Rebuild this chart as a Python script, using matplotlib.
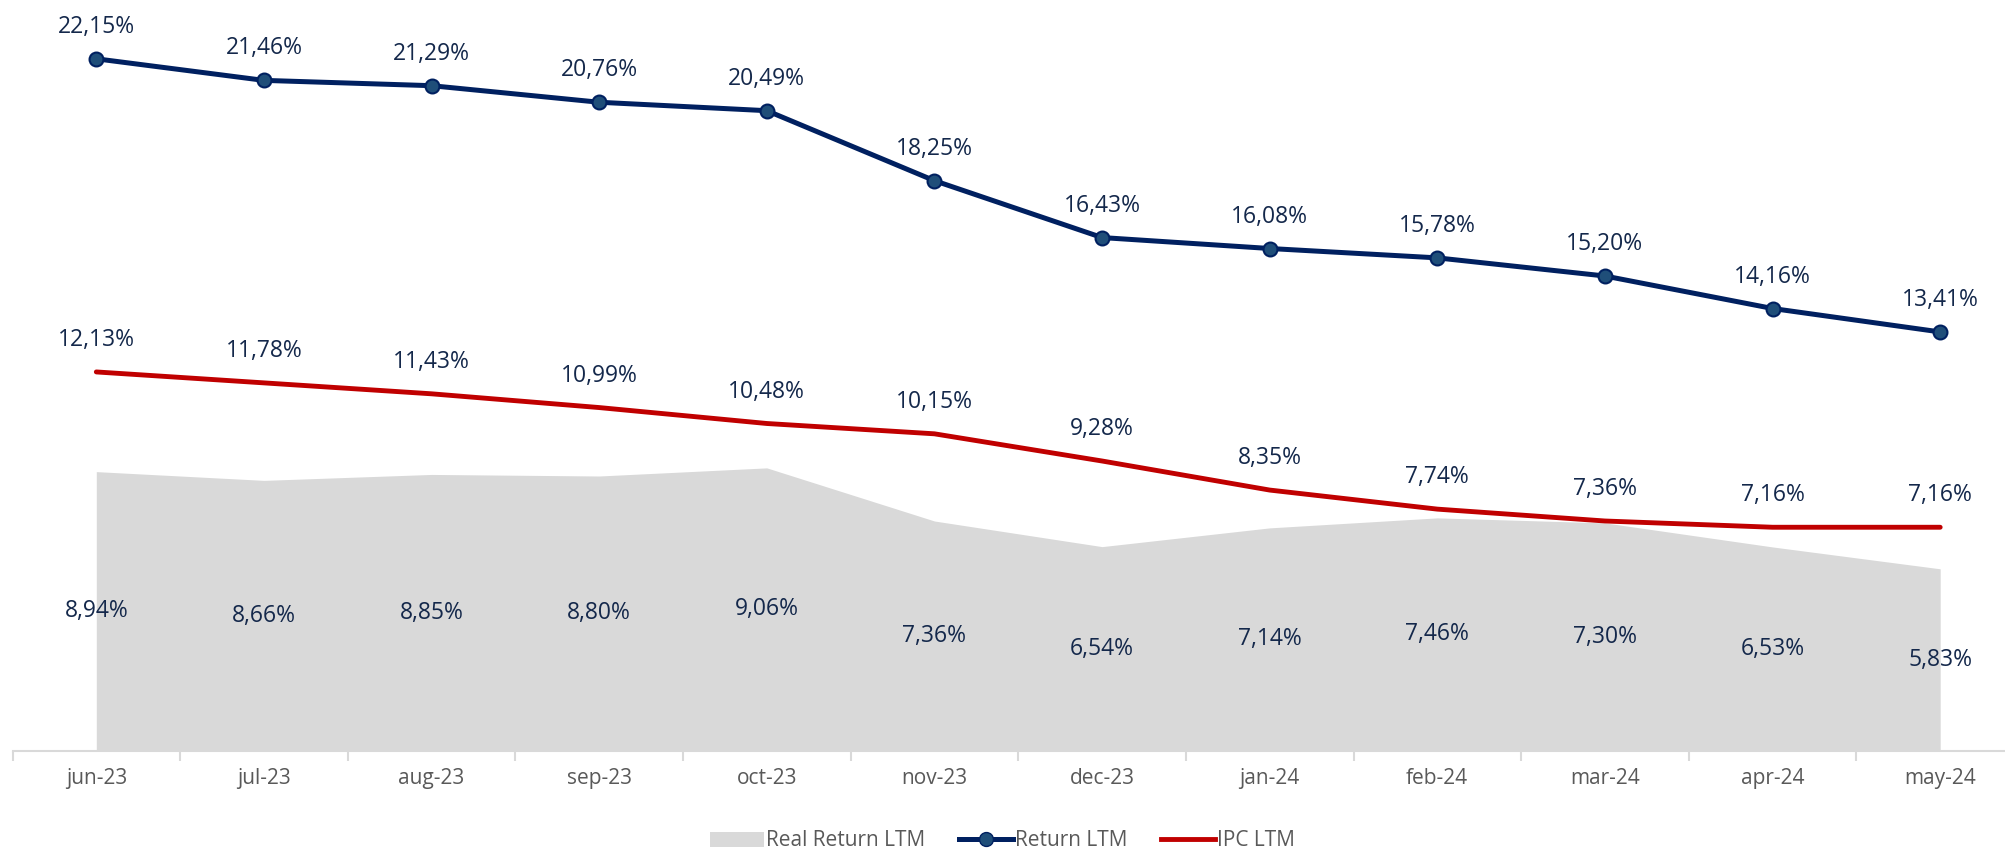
import numpy as np
import matplotlib.pyplot as plt
from matplotlib.patches import Patch
from matplotlib.lines import Line2D

months = ['jun-23', 'jul-23', 'aug-23', 'sep-23', 'oct-23', 'nov-23',
          'dec-23', 'jan-24', 'feb-24', 'mar-24', 'apr-24', 'may-24']
return_ltm = [22.15, 21.46, 21.29, 20.76, 20.49, 18.25, 16.43, 16.08, 15.78, 15.20, 14.16, 13.41]
ipc_ltm = [12.13, 11.78, 11.43, 10.99, 10.48, 10.15, 9.28, 8.35, 7.74, 7.36, 7.16, 7.16]
real_ltm = [8.94, 8.66, 8.85, 8.80, 9.06, 7.36, 6.54, 7.14, 7.46, 7.30, 6.53, 5.83]

navy = '#002060'
red = '#c00000'
gray = '#d9d9d9'
txt = '#14284b'

plt.rcParams['font.family'] = ['Open Sans', 'DejaVu Sans']

fig = plt.figure(figsize=(20.05, 8.51), dpi=100)
ax = fig.add_axes([12.5 / 2005, 100 / 851, 2011.5 / 2005, 750 / 851])

x = np.arange(len(months))

ax.fill_between(x, 0, real_ltm, color=gray, lw=0, zorder=1)
ax.plot(x, ipc_ltm, color=red, lw=3.5, solid_capstyle='round', zorder=2)
ax.plot(x, return_ltm, color=navy, lw=3.6, marker='o', markersize=10,
        markerfacecolor='#1f4e79', markeredgecolor=navy, markeredgewidth=1.5, zorder=3)

# data labels
for i in x:
    ax.annotate(f"{return_ltm[i]:.2f}%".replace('.', ','), (i, return_ltm[i]),
                xytext=(0, 23), textcoords='offset points', ha='center', va='center',
                fontsize=16.5, color=txt)
    ax.annotate(f"{ipc_ltm[i]:.2f}%".replace('.', ','), (i, ipc_ltm[i]),
                xytext=(0, 23), textcoords='offset points', ha='center', va='center',
                fontsize=16.5, color=txt)
    ax.text(i, real_ltm[i] / 2, f"{real_ltm[i]:.2f}%".replace('.', ','),
            ha='center', va='center', fontsize=16.5, color=txt)

ax.set_xlim(-0.5, 11.5)
ax.set_ylim(0, 24)
ax.set_yticks([])
for s in ['top', 'right', 'left']:
    ax.spines[s].set_visible(False)
ax.spines['bottom'].set_color(gray)
ax.spines['bottom'].set_linewidth(1.5)

ax.set_xticks(x)
ax.set_xticklabels(months, fontsize=15, color='#595959')
ax.tick_params(axis='x', length=0, pad=12)
ax.set_xticks(np.arange(-0.5, 12, 1), minor=True)
ax.tick_params(axis='x', which='minor', length=7, width=1.5, color=gray)

handles = [Patch(facecolor=gray, edgecolor='none'),
           Line2D([], [], color=navy, lw=3.6, marker='o', markersize=10,
                  markerfacecolor='#1f4e79', markeredgecolor=navy),
           Line2D([], [], color=red, lw=3.5)]
fig.legend(handles, ['Real Return LTM', 'Return LTM', 'IPC LTM'],
           loc='center', bbox_to_anchor=(0.5, 10 / 851), ncol=3, frameon=False,
           fontsize=15, labelcolor='#595959', handlelength=2.6,
           handletextpad=0.1, columnspacing=1.6)

plt.savefig('out.png', dpi=100)
